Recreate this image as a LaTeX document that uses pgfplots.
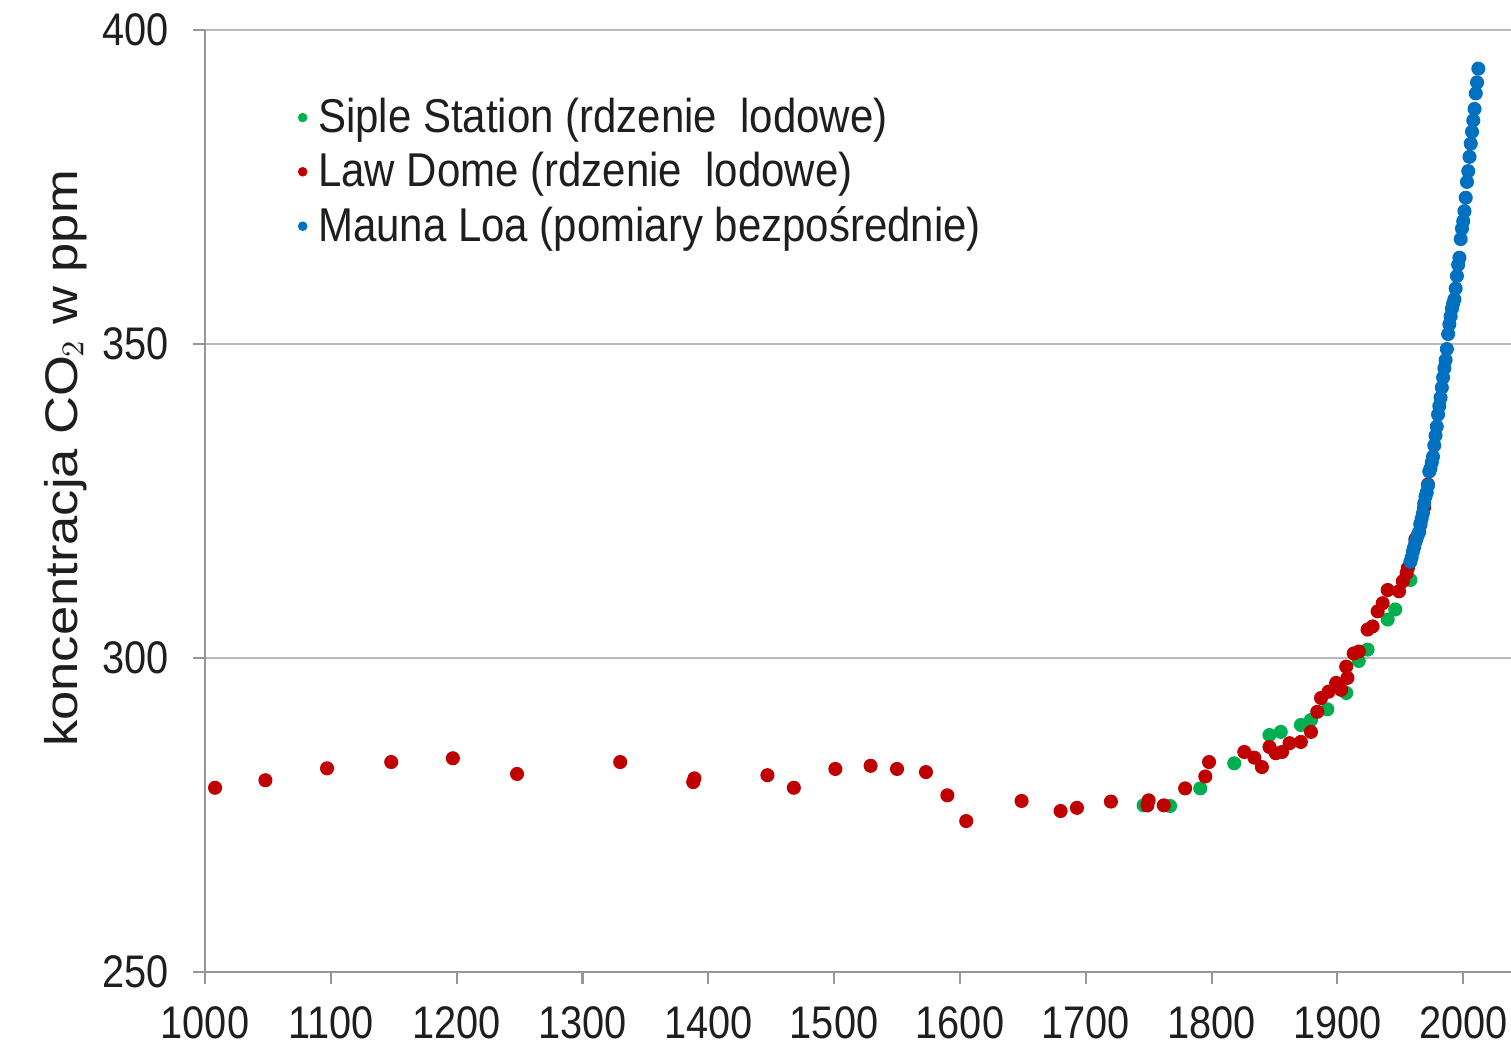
\documentclass[border=0pt]{standalone}
\usepackage{pgfplots}
\pgfplotsset{compat=1.18}
\usepackage{fontspec}
\setmainfont[FakeStretch=0.87]{Liberation Sans}
\newfontfamily\ylabfont[FakeStretch=1.15]{Liberation Sans}
\newfontfamily\legfont[FakeStretch=0.885]{Liberation Sans}
\definecolor{cgreen}{RGB}{0,176,80}
\definecolor{cred}{RGB}{192,0,0}
\definecolor{cblue}{RGB}{0,112,192}
\definecolor{cgrid}{RGB}{185,185,185}
\definecolor{caxis}{RGB}{150,150,150}
\definecolor{ctext}{RGB}{30,30,30}
\begin{document}
\begin{tikzpicture}
\begin{axis}[
  scale only axis,
  width=130.6mm, height=94.17mm,
  xmin=1000, xmax=2038, ymin=250, ymax=400,
  axis lines*=left,
  axis line style={caxis, line width=0.6pt},
  xtick={1000,1100,...,2000},
  ytick={250,300,350,400},
  ymajorgrids,
  grid style={cgrid, line width=0.6pt},
  tick align=outside,
  major tick length=1.2mm,
  tick style={caxis, line width=0.6pt},
  /pgf/number format/assume math mode=true,
  /pgf/number format/set thousands separator={},
  tick label style={font=\fontsize{13}{15.6}\selectfont, text=ctext},
  yticklabel style={xshift=-1.2mm},
  xticklabel style={yshift=-1mm},
  ylabel={\ylabfont koncentracja CO\kern-0.5pt$_2$ w ppm},
  ylabel style={font=\fontsize{13}{15.6}\selectfont, text=ctext, at={(axis description cs:-0.107,0.545)}, anchor=center},
  legend style={draw=none, fill=none, at={(axis description cs:0.058,0.94)}, anchor=north west,
    font=\legfont\fontsize{13.5}{16}\selectfont, text=ctext, row sep=0.75mm,
    nodes={inner xsep=0.8pt, inner ysep=1pt}},
  legend cell align=left,
  legend image code/.code={\path (0cm,0cm) (0.22cm,0cm);\draw[mark repeat=2,mark phase=2,#1,mark size=1.15pt] plot coordinates {(0cm,0cm) (0.1cm,0cm) (0.2cm,0cm)};},
  clip=false,
]
\addplot[only marks, mark=*, mark size=1.8pt, color=cgreen, mark options={draw=cgreen, fill=cgreen}] coordinates {
(1746,276.5) (1767,276.4) (1791,279.2) (1818,283.2) (1846,287.7) (1855,288.2)
(1871,289.3) (1879,290.1) (1892,291.8) (1907,294.4) (1917,299.5) (1924,301.3)
(1940,306.1) (1946,307.7) (1958,312.4)
};
\addlegendentry{Siple Station (rdzenie\ \ lodowe)}
\addplot[only marks, mark=*, mark size=1.8pt, color=cred, mark options={draw=cred, fill=cred}] coordinates {
(1008,279.3) (1048,280.5) (1097,282.4) (1148,283.4) (1197,284.0) (1248,281.5)
(1330,283.4) (1388,280.2) (1389,280.8) (1447,281.3) (1468,279.3) (1501,282.3)
(1529,282.8) (1550,282.3) (1573,281.8) (1590,278.1) (1605,274.0) (1649,277.2)
(1680,275.6) (1693,276.1) (1720,277.1) (1750,277.3) (1749,276.5) (1762,276.5)
(1779,279.2) (1795,281.1) (1798,283.4) (1826,285.0) (1834,284.1) (1840,282.6)
(1846,285.8) (1851,284.8) (1856,285.0) (1862,286.4) (1871,286.6) (1879,288.2)
(1884,291.4) (1887,293.6) (1893,294.6) (1899,296.0) (1903,294.9) (1908,296.8)
(1907,298.6) (1913,300.7) (1917,301.0) (1924,304.5) (1928,305.0) (1932,307.4)
(1936,308.7) (1940,310.8) (1949,310.6) (1952,312.2) (1955,313.5) (1956,314.3)
(1962,318.9) (1966,321.2) (1969,324.0) (1972,327.6)
};
\addlegendentry{Law Dome (rdzenie\ \ lodowe)}
\addplot[only marks, mark=*, mark size=1.8pt, color=cblue, mark options={draw=cblue, fill=cblue}] coordinates {
(1958,315.3) (1959,315.97) (1960,316.91) (1961,317.64) (1962,318.45) (1963,318.99)
(1964,319.62) (1965,320.04) (1966,321.38) (1967,322.16) (1968,323.04) (1969,324.62)
(1970,325.68) (1971,326.32) (1972,327.45) (1973,329.68) (1974,330.18) (1975,331.11)
(1976,332.04) (1977,333.83) (1978,335.40) (1979,336.84) (1980,338.75) (1981,340.11)
(1982,341.45) (1983,343.05) (1984,344.65) (1985,346.12) (1986,347.42) (1987,349.19)
(1988,351.57) (1989,353.12) (1990,354.39) (1991,355.61) (1992,356.45) (1993,357.10)
(1994,358.83) (1995,360.82) (1996,362.61) (1997,363.73) (1998,366.70) (1999,368.38)
(2000,369.55) (2001,371.14) (2002,373.28) (2003,375.80) (2004,377.52) (2005,379.80)
(2006,381.90) (2007,383.79) (2008,385.60) (2009,387.43) (2010,389.90) (2011,391.65)
(2012,393.85)
};
\addlegendentry{Mauna Loa (pomiary bezpośrednie)}
\end{axis}
\pgfresetboundingbox
\path[use as bounding box] (-20.5mm,-8.2mm) rectangle (130.6mm,97.17mm);
\end{tikzpicture}
\end{document}
